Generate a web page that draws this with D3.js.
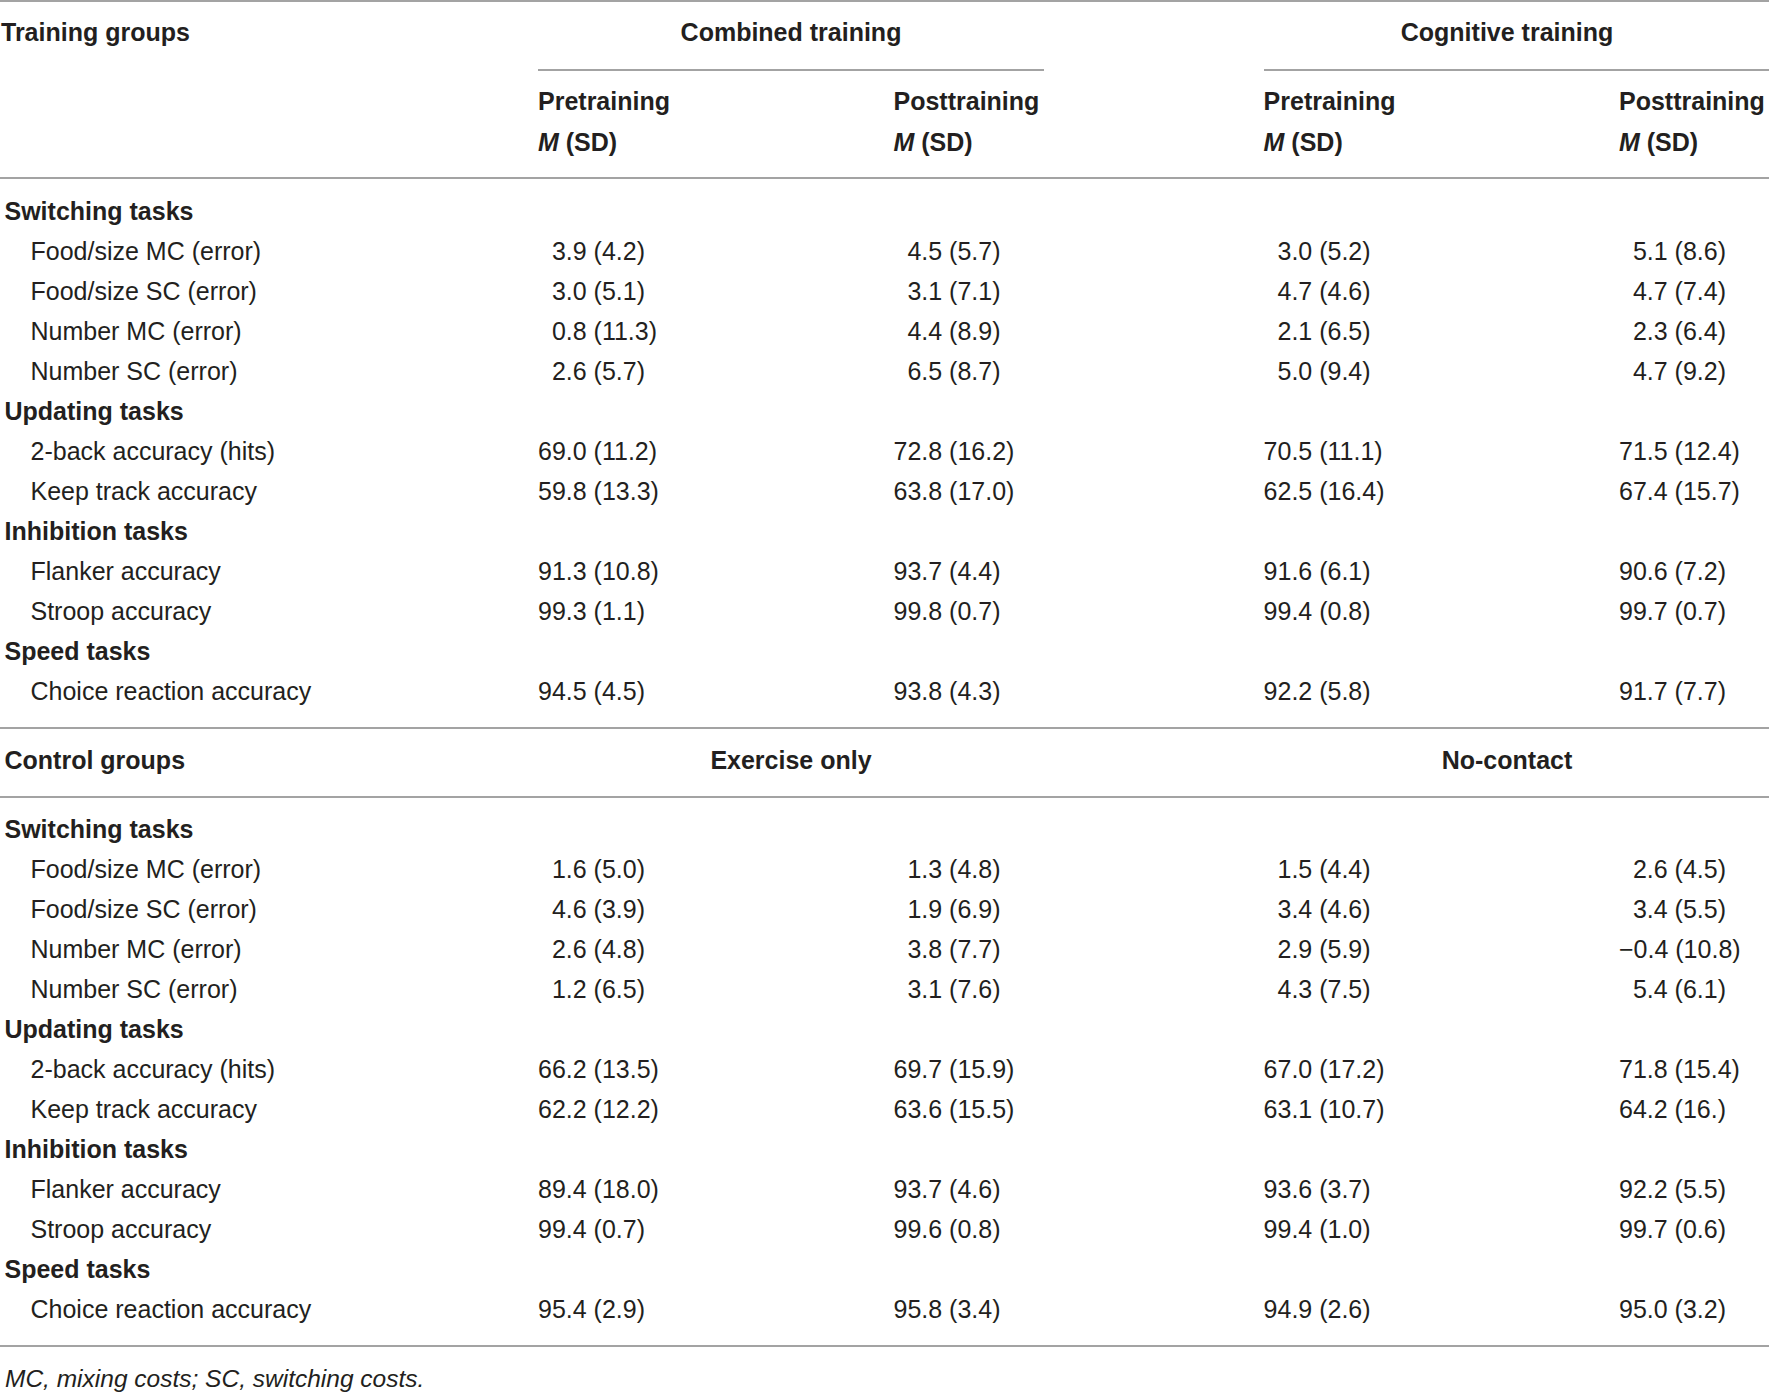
<!DOCTYPE html>
<html>
<head>
<meta charset="utf-8">
<script src="https://cdn.jsdelivr.net/npm/d3@7"></script>
<style>
  body { margin: 0; background: #fff; }
  text { font-family: "Liberation Sans", Arial, sans-serif; fill: #231f20; }
</style>
</head>
<body>
<div id="table"></div>
<script>
// table content
const sectionNames = ["Switching tasks", "Updating tasks", "Inhibition tasks", "Speed tasks"];
const taskNames = [
  ["Food/size MC (error)", "Food/size SC (error)", "Number MC (error)", "Number SC (error)"],
  ["2-back accuracy (hits)", "Keep track accuracy"],
  ["Flanker accuracy", "Stroop accuracy"],
  ["Choice reaction accuracy"]
];
const trainingGroups = ["Combined training", "Cognitive training"];
const controlGroups = ["Exercise only", "No-contact"];
const phases = ["Pretraining", "Posttraining"];

const combinedPre  = ["3.9 (4.2)", "3.0 (5.1)", "0.8 (11.3)", "2.6 (5.7)", "69.0 (11.2)", "59.8 (13.3)", "91.3 (10.8)", "99.3 (1.1)", "94.5 (4.5)"];
const combinedPost = ["4.5 (5.7)", "3.1 (7.1)", "4.4 (8.9)", "6.5 (8.7)", "72.8 (16.2)", "63.8 (17.0)", "93.7 (4.4)", "99.8 (0.7)", "93.8 (4.3)"];
const cognitivePre  = ["3.0 (5.2)", "4.7 (4.6)", "2.1 (6.5)", "5.0 (9.4)", "70.5 (11.1)", "62.5 (16.4)", "91.6 (6.1)", "99.4 (0.8)", "92.2 (5.8)"];
const cognitivePost = ["5.1 (8.6)", "4.7 (7.4)", "2.3 (6.4)", "4.7 (9.2)", "71.5 (12.4)", "67.4 (15.7)", "90.6 (7.2)", "99.7 (0.7)", "91.7 (7.7)"];
const exercisePre  = ["1.6 (5.0)", "4.6 (3.9)", "2.6 (4.8)", "1.2 (6.5)", "66.2 (13.5)", "62.2 (12.2)", "89.4 (18.0)", "99.4 (0.7)", "95.4 (2.9)"];
const exercisePost = ["1.3 (4.8)", "1.9 (6.9)", "3.8 (7.7)", "3.1 (7.6)", "69.7 (15.9)", "63.6 (15.5)", "93.7 (4.6)", "99.6 (0.8)", "95.8 (3.4)"];
const noContactPre  = ["1.5 (4.4)", "3.4 (4.6)", "2.9 (5.9)", "4.3 (7.5)", "67.0 (17.2)", "63.1 (10.7)", "93.6 (3.7)", "99.4 (1.0)", "94.9 (2.6)"];
const noContactPost = ["2.6 (4.5)", "3.4 (5.5)", "\u22120.4 (10.8)", "5.4 (6.1)", "71.8 (15.4)", "64.2 (16.)", "92.2 (5.5)", "99.7 (0.6)", "95.0 (3.2)"];

const footnote = "MC, mixing costs; SC, switching costs.";

const width = 1769, height = 1394;
const fs = 25;
const digitW = fs * 0.556;

const svg = d3.select("#table")
  .append("svg")
  .attr("width", width)
  .attr("height", height);

// column starts for the four value columns
const colX = d3.scaleOrdinal().domain([0, 1, 2, 3]).range([538, 893.5, 1263.6, 1619]);
const groupX = d3.scaleOrdinal().domain([0, 1]).range([791, 1507]);

// flatten sections + tasks into row list
const rows = [];
let k = 0;
sectionNames.forEach((s, i) => {
  rows.push({ label: s, head: true });
  taskNames[i].forEach(t => rows.push({ label: t, head: false, idx: k++ }));
});

function rule(y, x0, x1) {
  svg.append("line")
    .attr("x1", x0).attr("x2", x1)
    .attr("y1", y).attr("y2", y)
    .attr("stroke", "#a3a3a3")
    .attr("stroke-width", 2);
}

function groupHeader(y, title, names) {
  svg.append("text")
    .attr("x", title == "Training groups" ? 1 : 4.5).attr("y", y).attr("dy", "0.35em")
    .attr("font-size", fs).attr("font-weight", "bold")
    .text(title);
  svg.selectAll(null).data(names).enter().append("text")
    .attr("x", (d, i) => groupX(i)).attr("y", y).attr("dy", "0.35em")
    .attr("text-anchor", "middle")
    .attr("font-size", fs).attr("font-weight", "bold")
    .text(d => d);
}

function block(y0, y1, columns) {
  const y = d3.scaleLinear().domain([0, rows.length - 1]).range([y0, y1]);

  svg.append("g").selectAll("text").data(rows).enter().append("text")
    .attr("x", d => d.head ? 4.5 : 30.5)
    .attr("y", (d, i) => y(i)).attr("dy", "0.35em")
    .attr("font-size", fs)
    .attr("font-weight", d => d.head ? "bold" : null)
    .text(d => d.label);

  columns.forEach((vals, c) => {
    const cells = rows.filter(r => !r.head);
    svg.append("g").selectAll("text").data(cells).enter().append("text")
      .attr("x", d => {
        // line up on the decimal point of the mean
        const intLen = vals[d.idx].split(".")[0].length;
        return colX(c) + (2 - intLen) * digitW;
      })
      .attr("y", d => y(rows.indexOf(d))).attr("dy", "0.35em")
      .attr("font-size", fs)
      .text(d => vals[d.idx]);
  });
}

// top header
rule(1, 0, width);
groupHeader(32.7, "Training groups", trainingGroups);
rule(70, 538, 1044);
rule(70, 1264, width);
[0, 1, 2, 3].forEach(c => {
  svg.append("text")
    .attr("x", colX(c)).attr("y", 101.5).attr("dy", "0.35em")
    .attr("font-size", fs).attr("font-weight", "bold")
    .text(phases[c % 2]);
  const t = svg.append("text")
    .attr("x", colX(c)).attr("y", 142).attr("dy", "0.35em")
    .attr("font-size", fs).attr("font-weight", "bold");
  t.append("tspan").attr("font-style", "italic").text("M");
  t.append("tspan").text(" (SD)");
});
rule(178, 0, width);

block(211, 691, [combinedPre, combinedPost, cognitivePre, cognitivePost]);

rule(728, 0, width);
groupHeader(760, "Control groups", controlGroups);
rule(797, 0, width);

block(829, 1309, [exercisePre, exercisePost, noContactPre, noContactPost]);

rule(1346, 0, width);

svg.append("text")
  .attr("x", 5).attr("y", 1378).attr("dy", "0.35em")
  .attr("font-size", 24.5).attr("font-style", "italic")
  .text(footnote);
</script>
</body>
</html>
